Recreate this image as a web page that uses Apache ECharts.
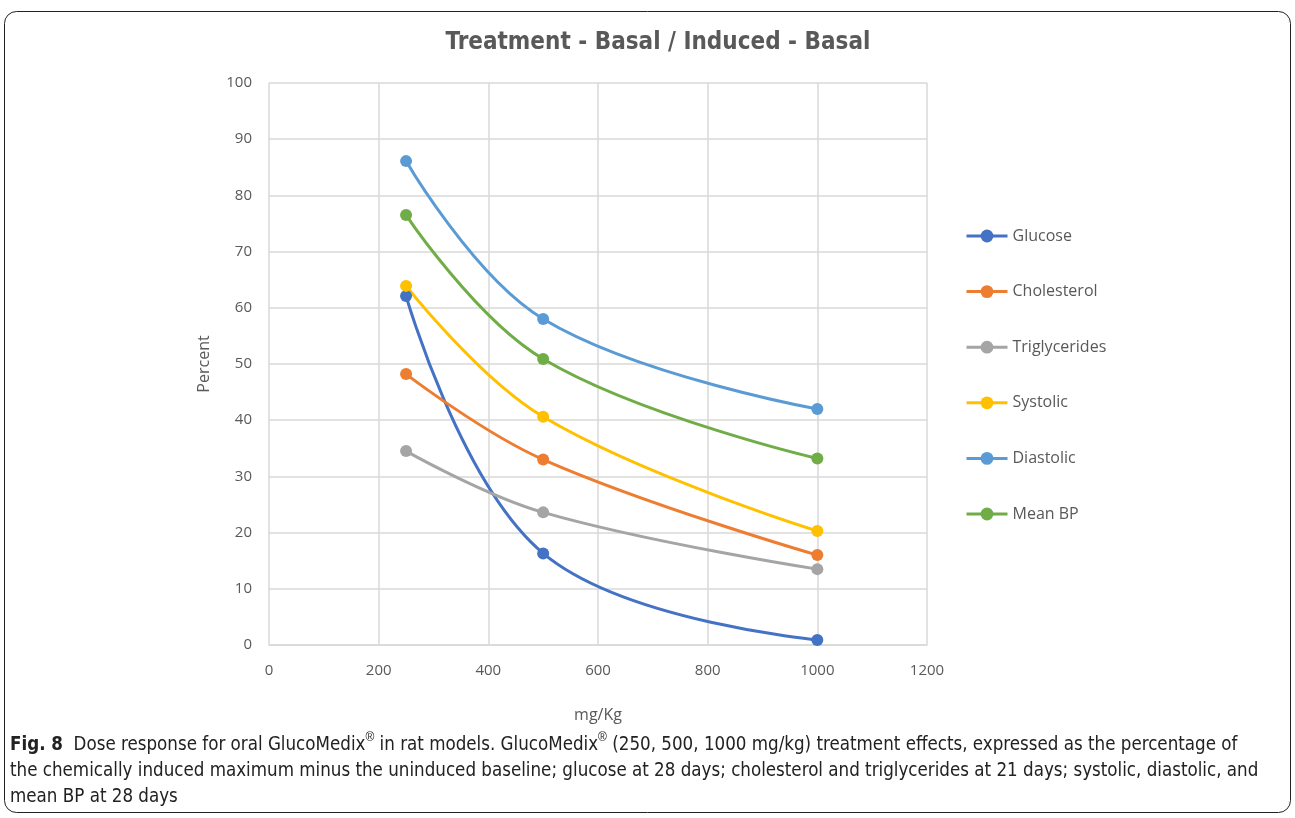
<!DOCTYPE html>
<html><head><meta charset="utf-8">
<script src="https://cdn.jsdelivr.net/npm/echarts@6/dist/echarts.min.js"></script>
<style>html,body{margin:0;padding:0;background:#fff}#c{width:1295px;height:818px}</style>
</head><body><div id="c"></div>
<script>
const doses = [250, 500, 1000];
const seriesNames = ['Glucose','Cholesterol','Triglycerides','Systolic','Diastolic','Mean BP'];
const glucose = [62.1, 16.3, 0.9];
const cholesterol = [48.2, 33.0, 16.0];
const triglycerides = [34.5, 23.6, 13.5];
const systolic = [63.9, 40.6, 20.3];
const diastolic = [86.1, 58.0, 42.0];
const meanBP = [76.5, 50.9, 33.2];
const colors = ['#4472C4','#ED7D31','#A5A5A5','#FFC000','#5B9BD5','#70AD47'];
const values = [glucose, cholesterol, triglycerides, systolic, diastolic, meanBP];

const chart = echarts.init(document.getElementById('c'));
const font = 'Open Sans, Noto Sans, sans-serif';
const narrow = 'DejaVu Sans Condensed, Liberation Sans Narrow, sans-serif';
chart.setOption({
  animation: false,
  title: { text: 'Treatment - Basal / Induced - Basal', left: 653, textAlign: 'center', top: 26,
    textStyle: { fontFamily: narrow, fontSize: 24, fontWeight: 'bold', color: '#595959' } },
  grid: { left: 269, right: 368, top: 83, bottom: 173 },
  legend: { orient: 'vertical', left: 960, top: 223, itemGap: 39.6, itemWidth: 41, itemHeight: 16,
    lineStyle: { width: 3 },
    textStyle: { fontFamily: font, fontSize: 16, color: '#595959' },
    data: seriesNames },
  xAxis: { type: 'value', min: 0, max: 1200, interval: 200,
    name: 'mg/Kg', nameLocation: 'middle', nameGap: 62,
    nameTextStyle: { fontFamily: font, fontSize: 16, color: '#595959' },
    axisLine: { show: true, lineStyle: { color: '#D9D9D9', width: 1.5 } }, axisTick: { show: false },
    axisLabel: { fontFamily: font, fontSize: 15, color: '#595959', margin: 18, formatter: v => String(v) },
    splitLine: { show: true, lineStyle: { color: '#D9D9D9', width: 1.5 } } },
  yAxis: { type: 'value', min: 0, max: 100, interval: 10,
    name: 'Percent', nameLocation: 'middle', nameGap: 57, nameRotate: 90,
    nameTextStyle: { fontFamily: font, fontSize: 16, color: '#595959' },
    axisLine: { show: false }, axisTick: { show: false },
    axisLabel: { fontFamily: font, fontSize: 15, color: '#595959', margin: 17, formatter: v => String(v) },
    splitLine: { show: true, lineStyle: { color: '#D9D9D9', width: 1.5 } } },
  series: seriesNames.map((n, i) => ({
    name: n, type: 'line', smooth: 0.4, symbol: 'circle', symbolSize: 12,
    color: colors[i], lineStyle: { width: 3, color: colors[i] }, itemStyle: { color: colors[i] },
    data: doses.map((d, j) => [d, values[i][j]])
  })),
  graphic: [
    { type: 'rect', shape: { x: 4.5, y: 11.5, width: 1286, height: 801, r: 12 },
      style: { fill: null, stroke: '#222', lineWidth: 1 } },
    { type: 'text', left: 10, top: 732, style: {
      text: '{b|Fig. 8}  Dose response for oral GlucoMedix{s|®} in rat models. GlucoMedix{s|®} (250, 500, 1000 mg/kg) treatment effects, expressed as the percentage of\nthe chemically induced maximum minus the uninduced baseline; glucose at 28 days; cholesterol and triglycerides at 21 days; systolic, diastolic, and\nmean BP at 28 days',
      font: '18.6px "DejaVu Sans Condensed", sans-serif', fill: '#222', lineHeight: 26,
      rich: { b: { fontWeight: 'bold', fontSize: 18.6, fontFamily: 'DejaVu Sans Condensed, sans-serif', fill: '#222', lineHeight: 26 },
              s: { fontSize: 12, verticalAlign: 'top', lineHeight: 18, fill: '#222' } } } }
  ]
});
</script></body></html>
